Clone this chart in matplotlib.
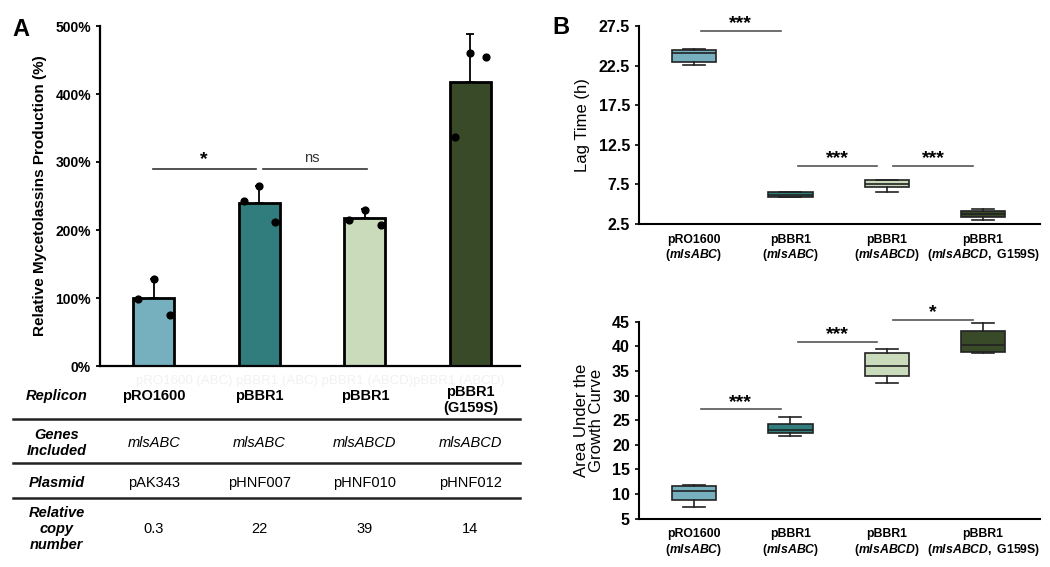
import matplotlib
matplotlib.use("Agg")
import matplotlib.pyplot as plt
import matplotlib.transforms as mtransforms
from matplotlib.lines import Line2D
import numpy as np

plt.rcParams['font.family'] = ['Liberation Sans', 'DejaVu Sans']
plt.rcParams['mathtext.fontset'] = 'custom'
plt.rcParams['mathtext.rm'] = 'Liberation Sans:bold'
plt.rcParams['mathtext.bf'] = 'Liberation Sans:bold'
plt.rcParams['mathtext.it'] = 'Liberation Sans:italic:bold'

# ---- data: panel A ----
colors = ['#76b0bf', '#317c7d', '#c9dbbb', '#384a28']
bar_means = [100, 240, 218, 418]
bar_err = [28, 25, 13, 70]
dots = [[98, 128, 75], [242, 265, 212], [215, 230, 207], [337, 460, 454]]

replicon = ['pRO1600', 'pBBR1', 'pBBR1', 'pBBR1\n(G159S)']
genes = ['mlsABC', 'mlsABC', 'mlsABCD', 'mlsABCD']
plasmid = ['pAK343', 'pHNF007', 'pHNF010', 'pHNF012']
copy_number = ['0.3', '22', '39', '14']
row_labels = ['Replicon', 'Genes\nIncluded', 'Plasmid', 'Relative\ncopy\nnumber']

# ---- data: panel B (box stats: whislo, q1, med, q3, whishi) ----
b_labels = ['pRO1600\n$\\mathrm{(}\\mathit{mlsABC}\\mathrm{)}$',
            'pBBR1\n$\\mathrm{(}\\mathit{mlsABC}\\mathrm{)}$',
            'pBBR1\n$\\mathrm{(}\\mathit{mlsABCD}\\mathrm{)}$',
            'pBBR1\n$\\mathrm{(}\\mathit{mlsABCD}\\mathrm{,\\ G159S)}$']
lag_stats = [[22.6, 23.0, 24.1, 24.5, 24.6],
             [5.9, 5.95, 6.2, 6.5, 6.55],
             [6.5, 7.2, 7.6, 8.0, 8.05],
             [3.0, 3.4, 3.8, 4.2, 4.4]]
auc_stats = [[7.4, 8.8, 10.6, 11.6, 11.8],
             [21.7, 22.5, 23.0, 24.3, 25.6],
             [32.5, 34.0, 36.1, 38.7, 39.4],
             [38.6, 38.9, 40.2, 43.2, 44.7]]
lag_sig = [(1.07, 1.9, 26.9, '***'), (2.08, 2.9, 9.85, '***'), (3.06, 3.9, 9.85, '***')]
auc_sig = [(1.07, 1.9, 27.2, '***'), (2.08, 2.9, 40.9, '***'), (3.06, 3.9, 45.4, '*')]

fig = plt.figure(figsize=(10.5, 5.67), dpi=100)

# ---------------- Panel A ----------------
axA = fig.add_axes([100/1050, 1-366/567, 420/1050, 340/567])
x = np.arange(4)
axA.bar(x, bar_means, width=0.39, color=colors, edgecolor='black', linewidth=2, zorder=2)
axA.errorbar(x, bar_means, yerr=[np.zeros(4), bar_err], fmt='none', ecolor='black',
             elinewidth=1.3, capsize=3, capthick=1.3, zorder=1)
for i, vals in enumerate(dots):
    axA.scatter(x[i] + np.array([-0.15, 0, 0.15]), vals, s=24, color='black', zorder=3)

axA.set_xlim(-0.51, 3.47)
axA.set_ylim(0, 500)
axA.set_yticks(np.arange(0, 501, 100))
axA.set_yticklabels([f'{v}%' for v in range(0, 501, 100)], fontweight='bold', fontsize=10)
axA.set_xticks([])
axA.spines['top'].set_visible(False)
axA.spines['right'].set_visible(False)
axA.spines['left'].set_linewidth(1.6)
axA.spines['bottom'].set_linewidth(1.6)
axA.tick_params(axis='y', length=3, width=1.3)
axA.set_ylabel('Relative Mycetolassins Production (%)', fontweight='bold', fontsize=11, labelpad=6)

# significance in A
axA.plot([-0.01, 0.97], [290, 290], color='#333333', lw=1.2)
axA.plot([1.03, 2.02], [290, 290], color='#333333', lw=1.2)
axA.text(0.47, 291, '*', ha='center', va='bottom', fontsize=14, fontweight='bold')
axA.text(1.5, 296, 'ns', ha='center', va='bottom', fontsize=10.5, color='#333333')

# table under panel A
blend = mtransforms.blended_transform_factory(axA.transData, fig.transFigure)
fig.text(0.305, 1-381/567, 'pRO1600 (ABC) pBBR1 (ABC) pBBR1 (ABCD)pBBR1 (ABCD)',
         ha='center', va='center', fontsize=9.5, color='#f1f1f1')
row_y = [396, 443, 483, 529]
line_y = [419, 463, 498]
label_x = 57/1050
for ry, lab in zip(row_y, row_labels):
    fig.text(label_x, 1-ry/567, lab, ha='center', va='center', fontsize=10.5,
             fontweight='bold', fontstyle='italic', linespacing=1.2)
for i in range(4):
    yy = 1-(400 if '\n' in replicon[i] else 396)/567
    axA.text(x[i], yy, replicon[i], transform=blend, ha='center', va='center',
             fontsize=10.5, fontweight='bold', linespacing=1.1)
    axA.text(x[i], 1-443/567, genes[i], transform=blend, ha='center', va='center',
             fontsize=10.5, fontstyle='italic')
    axA.text(x[i], 1-483/567, plasmid[i], transform=blend, ha='center', va='center', fontsize=10.5)
    axA.text(x[i], 1-529/567, copy_number[i], transform=blend, ha='center', va='center', fontsize=10.5)
for ly in line_y:
    fig.add_artist(Line2D([13/1050, 520/1050], [1-ly/567, 1-ly/567], color='#222222', lw=1.8))

fig.text(12/1050, 1-30/567, 'A', fontsize=17, fontweight='bold', va='center')
fig.text(552/1050, 1-28/567, 'B', fontsize=17, fontweight='bold', va='center')


# ---------------- Panel B ----------------
def box_panel(ax, stats, sig):
    bstats = []
    for s in stats:
        bstats.append({'whislo': s[0], 'q1': s[1], 'med': s[2], 'q3': s[3], 'whishi': s[4], 'fliers': []})
    bp = ax.bxp(bstats, positions=[1, 2, 3, 4], widths=0.46, patch_artist=True, showfliers=False,
                medianprops=dict(color='#222222', lw=1.2),
                whiskerprops=dict(color='#222222', lw=1.2),
                capprops=dict(color='#222222', lw=1.2),
                boxprops=dict(edgecolor='#222222', lw=1.2))
    for patch, c in zip(bp['boxes'], colors):
        patch.set_facecolor(c)
    for x0, x1, yv, txt in sig:
        ax.plot([x0, x1], [yv, yv], color='#555555', lw=1.2, clip_on=False)
        ax.annotate(txt, ((x0 + x1) / 2, yv), xytext=(0, -1), textcoords='offset points',
                    ha='center', va='bottom', fontsize=14, fontweight='bold', annotation_clip=False)
    ax.set_xlim(0.43, 4.59)
    ax.set_xticks([1, 2, 3, 4])
    ax.set_xticklabels(b_labels, fontsize=8.8, fontweight='bold', linespacing=1.1)
    ax.tick_params(axis='x', length=0, pad=7)
    ax.tick_params(axis='y', length=3, width=1.2)
    ax.spines['top'].set_visible(False)
    ax.spines['right'].set_visible(False)
    ax.spines['left'].set_linewidth(1.5)
    ax.spines['bottom'].set_linewidth(1.5)


axB1 = fig.add_axes([639/1050, 1-224/567, 401/1050, 198/567])
box_panel(axB1, lag_stats, lag_sig)
axB1.set_ylim(2.5, 27.5)
axB1.set_yticks([2.5, 7.5, 12.5, 17.5, 22.5, 27.5])
axB1.set_yticklabels(['2.5', '7.5', '12.5', '17.5', '22.5', '27.5'], fontweight='bold', fontsize=11.5)
axB1.set_ylabel('Lag Time (h)', fontsize=12, labelpad=6)

axB2 = fig.add_axes([639/1050, 1-518.7/567, 401/1050, 197/567])
box_panel(axB2, auc_stats, auc_sig)
axB2.set_ylim(5, 45)
axB2.set_yticks(np.arange(5, 46, 5))
axB2.set_yticklabels([str(v) for v in range(5, 46, 5)], fontweight='bold', fontsize=11.5)
axB2.set_ylabel('Area Under the\nGrowth Curve', fontsize=12, labelpad=6, linespacing=1.0)

fig.savefig('out.png', dpi=100)
